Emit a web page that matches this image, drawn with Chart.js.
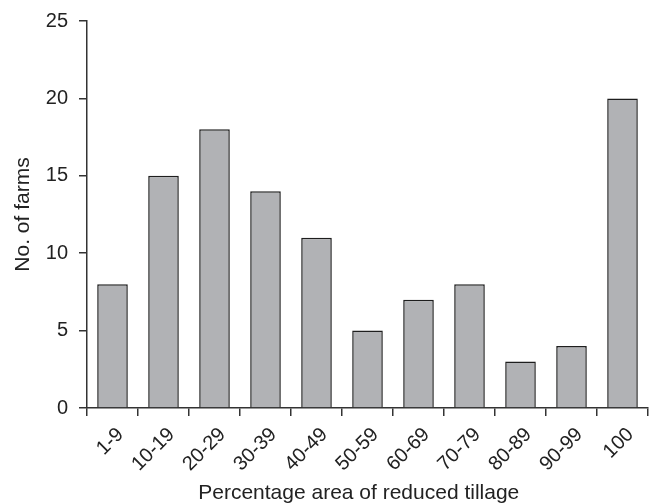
<!DOCTYPE html>
<html>
<head>
<meta charset="utf-8">
<script src="https://cdn.jsdelivr.net/npm/chart.js@4"></script>
<style>
html,body{margin:0;padding:0;background:#fff;}
#wrap{width:656px;height:504px;}
</style>
</head>
<body>
<div id="wrap"><canvas id="c" width="656" height="504"></canvas></div>
<script>
const categories = ['1-9','10-19','20-29','30-39','40-49','50-59','60-69','70-79','80-89','90-99','100'];
const farms = [8,15,18,14,11,5,7,8,3,4,20];
const yTicks = [0,5,10,15,20,25];
const xTitle = 'Percentage area of reduced tillage';
const yTitle = 'No. of farms';

const FONT = 'Liberation Sans, Arial, Helvetica, sans-serif';
const INK = '#222222';

new Chart(document.getElementById('c'), {
  type: 'bar',
  data: {
    labels: categories,
    datasets: [{
      data: farms,
      backgroundColor: '#b1b2b5',
      borderColor: '#1e1e1e',
      borderWidth: 1.5,
      barPercentage: 0.6,
      categoryPercentage: 1.0
    }]
  },
  options: {
    responsive: false,
    animation: false,
    devicePixelRatio: 1,
    layout: { padding: { left: 0, right: 8, top: 21, bottom: 0 } },
    plugins: { legend: { display: false }, tooltip: { enabled: false } },
    scales: {
      x: {
        offset: true,
        grid: { offset: true, drawOnChartArea: false, drawTicks: true, tickLength: 8, color: '#333', lineWidth: 1.5 },
        border: { display: true, color: '#333', width: 1.5 },
        ticks: { color: INK, font: { family: FONT, size: 20 }, minRotation: 45, maxRotation: 45, padding: 7, labelOffset: 8 },
        title: { display: true, text: xTitle + '\u00a0\u00a0\u00a0', color: INK, font: { family: FONT, size: 21, lineHeight: 1.0 }, padding: { top: 0, bottom: 0 } },
        afterFit: (s) => { s.height = 96; s.paddingLeft = 0; s.paddingRight = 0; }
      },
      y: {
        min: 0, max: 25,
        afterBuildTicks: (s) => { s.ticks = yTicks.map(v => ({ value: v })); },
        grid: { drawOnChartArea: false, drawTicks: true, tickLength: 8, color: '#333', lineWidth: 1.5 },
        border: { display: true, color: '#333', width: 1.5 },
        ticks: { color: INK, font: { family: FONT, size: 20 }, padding: 11 },
        title: { display: true, text: yTitle, color: INK, font: { family: FONT, size: 21, lineHeight: 1.0 }, padding: { top: 13, bottom: 0 } },
        afterFit: (s) => { s.width = 87; s.paddingTop = 0; s.paddingBottom = 0; }
      }
    }
  }
});
</script>
</body>
</html>
